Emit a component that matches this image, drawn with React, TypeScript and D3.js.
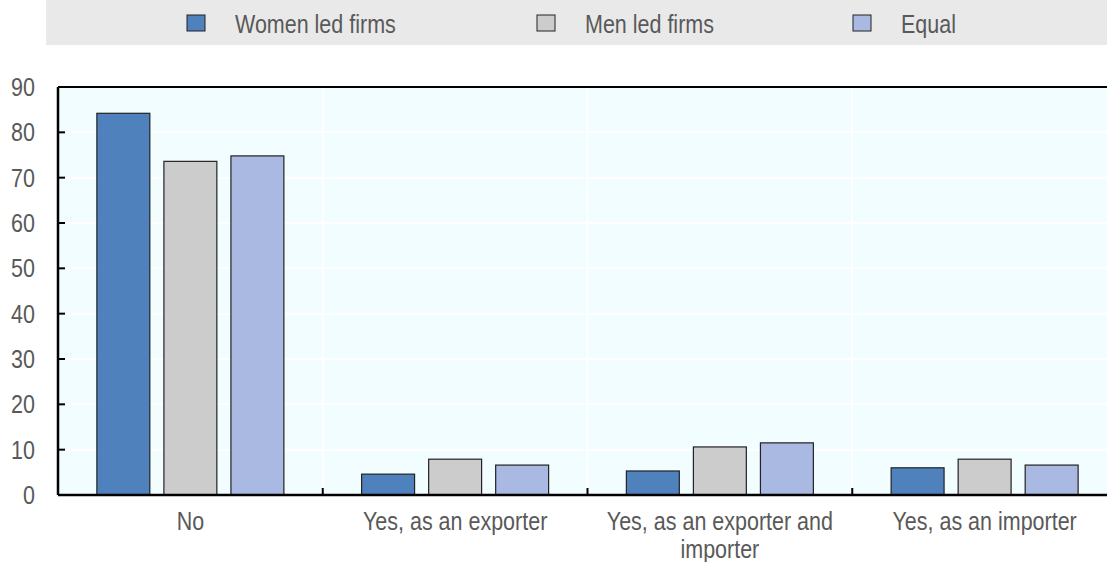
import React, { useEffect, useRef } from 'react';
import * as d3 from 'd3';

const categories = ['No', 'Yes, as an exporter', 'Yes, as an exporter and importer', 'Yes, as an importer'];
const seriesNames = ['Women led firms', 'Men led firms', 'Equal'];
const womenLed = [84.2, 4.6, 5.3, 6.0];
const menLed = [73.6, 7.9, 10.6, 7.9];
const equal = [74.8, 6.6, 11.5, 6.6];
const yTicks = [0, 10, 20, 30, 40, 50, 60, 70, 80, 90];

const colors = ['#4f81bd', '#cccccc', '#a9b9e2'];
const font = '"Liberation Sans", Arial, sans-serif';
const textColor = '#595959';

function wrap(label: string): string[] {
  if (label === 'Yes, as an exporter and importer') return ['Yes, as an exporter and', 'importer'];
  return [label];
}

// narrow-looking text: no condensed font installed, so squeeze horizontally
function addText(parent: any, x: number, y: number, txt: string | number, anchor = 'start') {
  return parent.append('text')
    .attr('transform', `translate(${x},${y}) scale(0.86,1)`)
    .attr('text-anchor', anchor)
    .attr('font-family', font)
    .attr('font-size', 25)
    .attr('fill', textColor)
    .text(txt);
}

export default function App() {
  const ref = useRef<HTMLDivElement>(null);

  useEffect(() => {
    const W = 1107;
    const H = 562;
    const margin = { top: 87, right: -10, bottom: 67, left: 58 };
    const width = W - margin.left - margin.right;
    const height = H - margin.top - margin.bottom;

    const root = d3.select(ref.current);
    root.selectAll('*').remove();
    const svg = root
      .append('svg')
      .attr('width', W)
      .attr('height', H)
      .style('display', 'block');

    // legend band
    svg.append('rect').attr('x', 46).attr('y', 0).attr('width', W - 46).attr('height', 45).attr('fill', '#e9e9e9');
    const legendX = [187, 537, 853];
    seriesNames.forEach((name, i) => {
      svg.append('rect')
        .attr('x', legendX[i]).attr('y', 15).attr('width', 18).attr('height', 16)
        .attr('fill', colors[i]).attr('stroke', '#222').attr('stroke-width', 1);
      addText(svg, legendX[i] + 48, 33, name);
    });

    const g = svg.append('g').attr('transform', `translate(${margin.left},${margin.top})`);

    const x0 = d3.scaleBand().domain(categories).range([0, width]).padding(0);
    const y = d3.scaleLinear().domain([0, 90]).range([height, 0]);
    const x1 = d3.scaleBand().domain(seriesNames).range([0, x0.bandwidth()]).paddingInner(0.21).paddingOuter(0.58);

    g.append('rect').attr('x', 0).attr('y', 0).attr('width', width).attr('height', height).attr('fill', '#f2fdff');

    // gridlines
    g.selectAll('.hgrid').data(yTicks.slice(1, -1)).enter().append('line')
      .attr('x1', 0).attr('x2', width).attr('y1', (d) => y(d)).attr('y2', (d) => y(d))
      .attr('stroke', '#ffffff').attr('stroke-width', 2);
    g.selectAll('.vgrid').data(categories.slice(1)).enter().append('line')
      .attr('x1', (d) => x0(d)!).attr('x2', (d) => x0(d)!).attr('y1', 0).attr('y2', height)
      .attr('stroke', '#ffffff').attr('stroke-width', 2);

    const series = [womenLed, menLed, equal];
    series.forEach((vals, si) => {
      g.selectAll(`.bar${si}`).data(vals).enter().append('rect')
        .attr('x', (_, i) => x0(categories[i])! + x1(seriesNames[si])!)
        .attr('y', (d) => y(d))
        .attr('width', x1.bandwidth())
        .attr('height', (d) => height - y(d))
        .attr('fill', colors[si])
        .attr('stroke', '#222')
        .attr('stroke-width', 1.2);
    });

    // top border
    g.append('line').attr('x1', 0).attr('x2', width).attr('y1', 0).attr('y2', 0).attr('stroke', '#000').attr('stroke-width', 2);

    // y axis
    g.append('line').attr('x1', 0).attr('x2', 0).attr('y1', 0).attr('y2', height).attr('stroke', '#000').attr('stroke-width', 2.5);
    g.selectAll('.ytick').data(yTicks).enter().append('line')
      .attr('x1', 0).attr('x2', 7).attr('y1', (d) => y(d)).attr('y2', (d) => y(d))
      .attr('stroke', '#000').attr('stroke-width', 2);
    yTicks.forEach((t) => {
      addText(g, -23, y(t) + 9, t, 'end');
    });

    // x axis
    g.append('line').attr('x1', 0).attr('x2', width).attr('y1', height).attr('y2', height).attr('stroke', '#000').attr('stroke-width', 2.5);
    g.selectAll('.xtick').data(categories.slice(1)).enter().append('line')
      .attr('x1', (d) => x0(d)!).attr('x2', (d) => x0(d)!).attr('y1', height).attr('y2', height - 7)
      .attr('stroke', '#000').attr('stroke-width', 2);

    categories.forEach((c) => {
      wrap(c).forEach((ln, li) => {
        addText(g, x0(c)! + x0.bandwidth() / 2, height + 35 + li * 28, ln, 'middle');
      });
    });

    return () => {
      root.selectAll('*').remove();
    };
  }, []);

  return <div ref={ref} style={{ position: 'absolute', left: 0, top: 0 }}></div>;
}
